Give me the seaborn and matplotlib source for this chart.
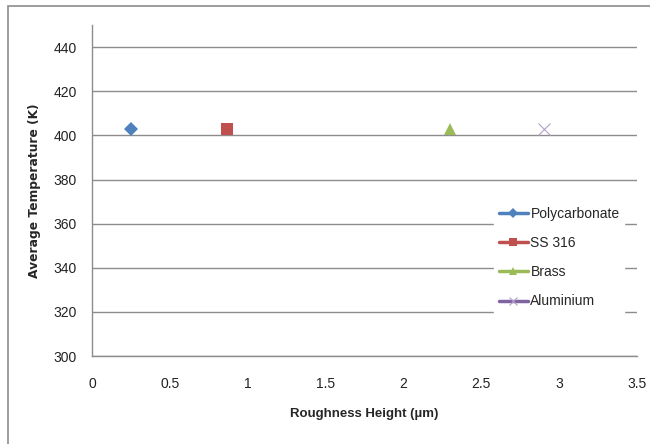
import pandas as pd
import matplotlib
matplotlib.use("Agg")
import matplotlib.pyplot as plt
import seaborn as sns
from matplotlib.patches import Rectangle

# values
materials = ["Polycarbonate", "SS 316", "Brass", "Aluminium"]
roughness = [0.25, 0.87, 2.3, 2.9]
avg_temp = [403, 403, 403, 403]
x_ticks = [0, 0.5, 1, 1.5, 2, 2.5, 3, 3.5]
y_ticks = [300, 320, 340, 360, 380, 400, 420, 440]

colors = {"Polycarbonate": "#4F81BD", "SS 316": "#C0504D",
          "Brass": "#9BBB59", "Aluminium": "#8064A2"}
marks = {"Polycarbonate": "D", "SS 316": "s", "Brass": "^", "Aluminium": "x"}
msize = {"Polycarbonate": 7, "SS 316": 8.5, "Brass": 8.5, "Aluminium": 8}

df = pd.DataFrame({"Material": materials, "Roughness": roughness, "Temp": avg_temp})

sns.set_style("white")
plt.rcParams["font.family"] = ["Liberation Sans", "DejaVu Sans"]

fig = plt.figure(figsize=(6.5, 4.44), dpi=100)
ax = fig.add_axes([0.1415, 0.198, 0.8385, 0.7457])

# one call per material so filled and line markers can be mixed
for m in materials:
    sub = df[df["Material"] == m]
    if marks[m] == "x":
        kw = dict(markeredgewidth=0.8, markeredgecolor="#B3A2C7")
    else:
        kw = dict(markeredgewidth=0)
    sns.lineplot(data=sub, x="Roughness", y="Temp", color=colors[m], marker=marks[m],
                 markersize=msize[m], linewidth=2.5, label=m, ax=ax, **kw)

ax.set_xlim(0, 3.5)
ax.set_ylim(300, 450)
ax.set_xticks(x_ticks)
ax.set_xticklabels(["0", "0.5", "1", "1.5", "2", "2.5", "3", "3.5"])
ax.set_yticks(y_ticks)
ax.tick_params(length=0, labelsize=10, colors="#222222")
ax.tick_params(axis="y", pad=11)
ax.tick_params(axis="x", pad=15)
ax.grid(axis="y", color="#8C8C8C", linewidth=1)
ax.set_axisbelow(True)
for s in ["top", "right"]:
    ax.spines[s].set_visible(False)
for s in ["left", "bottom"]:
    ax.spines[s].set_color("#8C8C8C")
    ax.spines[s].set_linewidth(1)

ax.set_xlabel("Roughness Height (\u00b5m)", fontsize=9.5, fontweight="bold", labelpad=12)
ax.set_ylabel("Average Temperature (K)", fontsize=8.8, fontweight="bold",
              family="DejaVu Sans", labelpad=9)

leg = ax.legend(loc="upper left", bbox_to_anchor=(0.737, 0.466),
                frameon=True, fancybox=False, framealpha=1, edgecolor="white",
                fontsize=10, handlelength=2.1, handletextpad=0.2,
                labelspacing=1.1, borderpad=0.35, borderaxespad=0)
# smaller markers on the legend lines, as in the reference
for h in leg.legend_handles:
    h.set_markersize(6 if h.get_marker() != "D" else 5)

# outer chart border like the Excel chart area
fig.patches.append(Rectangle((8 / 650, -0.05), 1.1, (444 - 6) / 444 + 0.05,
                             transform=fig.transFigure, fill=False,
                             edgecolor="#8C8C8C", linewidth=1.2))

fig.savefig("out.png", dpi=100)
